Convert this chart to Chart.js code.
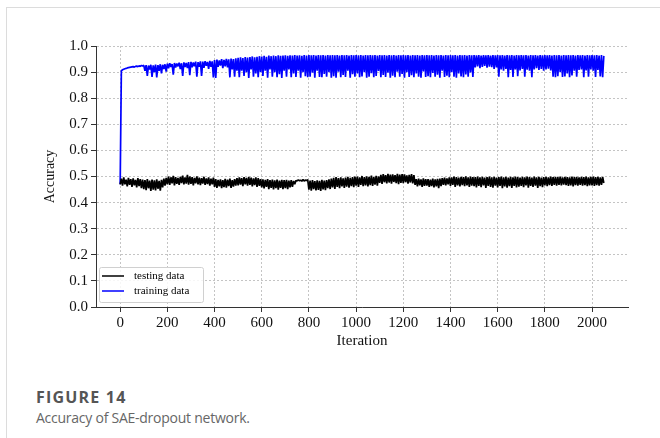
<!DOCTYPE html>
<html lang="en">
<head>
  <meta charset="UTF-8">
  <title>Accuracy of SAE-dropout network</title>
  <script src="https://cdn.jsdelivr.net/npm/chart.js"></script>
  <style>
    body { margin: 0; background: #fff; width: 660px; height: 438px; overflow: hidden; position: relative; }
    .frame { position: absolute; left: 6px; top: 7px; right: 0; bottom: 0; border-left: 1px solid #dcdcdc; border-top: 1px solid #dcdcdc; }
    .plot { position: absolute; left: 0; top: 0; width: 660px; height: 360px; }
    .caption { position: absolute; left: 36px; top: 387px; font-family: "Open Sans", sans-serif; color: #555; }
    .caption .num { font-weight: 700; font-size: 16px; line-height: 20px; letter-spacing: 1.2px; }
    .caption .txt { font-size: 14px; line-height: 22px; letter-spacing: -0.25px; color: #666; }
  </style>
</head>
<body>
  <div class="frame"></div>
  <div class="plot"><canvas id="acc" width="660" height="360"></canvas></div>
  <div class="caption">
    <div class="num">FIGURE 14</div>
    <div class="txt">Accuracy of SAE-dropout network.</div>
  </div>

  <script>
    // one sample every 5 iterations, starting at iteration 0
    const step = 5;
    const xTicks = [0, 200, 400, 600, 800, 1000, 1200, 1400, 1600, 1800, 2000];
    const yTicks = [0, 0.1, 0.2, 0.3, 0.4, 0.5, 0.6, 0.7, 0.8, 0.9, 1.0];

    const testing = [
      0.47, 0.492, 0.465, 0.497, 0.47, 0.488, 0.462, 0.495, 0.468, 0.49,
      0.46, 0.493, 0.466, 0.487, 0.458, 0.494, 0.463, 0.49, 0.455, 0.488,
      0.452, 0.486, 0.448, 0.49, 0.455, 0.484, 0.445, 0.488, 0.45, 0.485,
      0.447, 0.489, 0.453, 0.483, 0.446, 0.487, 0.458, 0.492, 0.465, 0.495,
      0.47, 0.5, 0.468, 0.497, 0.474, 0.502, 0.466, 0.498, 0.472, 0.495,
      0.468, 0.499, 0.475, 0.503, 0.47, 0.497, 0.473, 0.506, 0.469, 0.5,
      0.472, 0.498, 0.466, 0.495, 0.474, 0.5, 0.47, 0.496, 0.467, 0.494,
      0.473, 0.499, 0.468, 0.493, 0.471, 0.497, 0.465, 0.492, 0.47, 0.496,
      0.46, 0.49, 0.456, 0.487, 0.462, 0.489, 0.455, 0.486, 0.459, 0.491,
      0.457, 0.488, 0.463, 0.492, 0.456, 0.486, 0.461, 0.49, 0.465, 0.494,
      0.466, 0.497, 0.469, 0.494, 0.463, 0.498, 0.47, 0.495, 0.465, 0.499,
      0.468, 0.496, 0.462, 0.493, 0.467, 0.497, 0.46, 0.494, 0.464, 0.49,
      0.458, 0.489, 0.454, 0.487, 0.46, 0.49, 0.452, 0.486, 0.456, 0.488,
      0.451, 0.485, 0.455, 0.488, 0.45, 0.484, 0.456, 0.487, 0.452, 0.486,
      0.455, 0.487, 0.452, 0.484, 0.458, 0.486, 0.46, 0.483, 0.47, 0.485,
      0.483, 0.487, 0.484, 0.486, 0.482, 0.488, 0.483, 0.486, 0.485, 0.487,
      0.45, 0.484, 0.446, 0.486, 0.452, 0.482, 0.447, 0.485, 0.449, 0.483,
      0.445, 0.487, 0.451, 0.484, 0.448, 0.486, 0.455, 0.489, 0.452, 0.492,
      0.458, 0.495, 0.452, 0.498, 0.46, 0.494, 0.455, 0.497, 0.462, 0.493,
      0.456, 0.496, 0.461, 0.499, 0.457, 0.495, 0.463, 0.498, 0.459, 0.5,
      0.465, 0.5, 0.46, 0.497, 0.468, 0.502, 0.463, 0.498, 0.466, 0.501,
      0.462, 0.499, 0.467, 0.503, 0.464, 0.498, 0.469, 0.502, 0.465, 0.5,
      0.476, 0.506, 0.472, 0.509, 0.478, 0.505, 0.474, 0.51, 0.477, 0.507,
      0.473, 0.508, 0.479, 0.505, 0.475, 0.51, 0.471, 0.507, 0.476, 0.509,
      0.475, 0.508, 0.478, 0.504, 0.473, 0.506, 0.477, 0.509, 0.474, 0.505,
      0.468, 0.49, 0.462, 0.492, 0.466, 0.489, 0.46, 0.493, 0.464, 0.49,
      0.465, 0.49, 0.46, 0.488, 0.463, 0.492, 0.458, 0.489, 0.462, 0.491,
      0.455, 0.492, 0.463, 0.494, 0.468, 0.496, 0.466, 0.493, 0.47, 0.497,
      0.464, 0.497, 0.468, 0.5, 0.46, 0.498, 0.466, 0.496, 0.462, 0.499,
      0.467, 0.498, 0.463, 0.501, 0.466, 0.497, 0.46, 0.5, 0.465, 0.498,
      0.463, 0.498, 0.458, 0.5, 0.464, 0.497, 0.459, 0.499, 0.466, 0.496,
      0.456, 0.498, 0.464, 0.5, 0.46, 0.497, 0.457, 0.499, 0.465, 0.496,
      0.458, 0.498, 0.464, 0.5, 0.455, 0.497, 0.462, 0.499, 0.457, 0.496,
      0.463, 0.499, 0.456, 0.497, 0.464, 0.5, 0.458, 0.498, 0.461, 0.496,
      0.464, 0.499, 0.459, 0.497, 0.466, 0.5, 0.457, 0.498, 0.464, 0.496,
      0.46, 0.5, 0.465, 0.497, 0.456, 0.499, 0.463, 0.496, 0.459, 0.498,
      0.466, 0.499, 0.463, 0.497, 0.467, 0.5, 0.464, 0.498, 0.468, 0.499,
      0.465, 0.498, 0.468, 0.5, 0.466, 0.497, 0.469, 0.499, 0.467, 0.498,
      0.464, 0.497, 0.466, 0.5, 0.462, 0.498, 0.467, 0.499, 0.465, 0.497,
      0.468, 0.499, 0.465, 0.498, 0.467, 0.5, 0.463, 0.497, 0.466, 0.499,
      0.466, 0.5, 0.464, 0.498, 0.467, 0.499, 0.465, 0.497, 0.468, 0.498,
      0.475
    ];

    const training = [
      0.47, 0.905, 0.909, 0.911, 0.913, 0.914, 0.916, 0.917, 0.918, 0.919,
      0.92, 0.921, 0.919, 0.922, 0.923, 0.921, 0.924, 0.922, 0.925, 0.923,
      0.926, 0.905, 0.927, 0.885, 0.925, 0.91, 0.928, 0.882, 0.926, 0.9,
      0.929, 0.88, 0.927, 0.905, 0.93, 0.895, 0.928, 0.912, 0.93, 0.902,
      0.932, 0.915, 0.934, 0.92, 0.931, 0.89, 0.935, 0.918, 0.933, 0.922,
      0.936, 0.912, 0.934, 0.885, 0.937, 0.92, 0.935, 0.915, 0.938, 0.888,
      0.939, 0.918, 0.937, 0.922, 0.94, 0.882, 0.938, 0.92, 0.941, 0.885,
      0.94, 0.916, 0.942, 0.924, 0.939, 0.912, 0.943, 0.92, 0.941, 0.88,
      0.946, 0.878, 0.948, 0.92, 0.945, 0.925, 0.95, 0.915, 0.947, 0.922,
      0.951, 0.918, 0.949, 0.88, 0.952, 0.91, 0.95, 0.882, 0.953, 0.905,
      0.955, 0.88, 0.957, 0.905, 0.954, 0.885, 0.958, 0.9, 0.956, 0.878,
      0.958, 0.91, 0.96, 0.882, 0.957, 0.895, 0.959, 0.88, 0.961, 0.9,
      0.96, 0.885, 0.962, 0.905, 0.959, 0.879, 0.963, 0.91, 0.961, 0.882,
      0.963, 0.9, 0.961, 0.88, 0.964, 0.892, 0.962, 0.878, 0.963, 0.905,
      0.964, 0.882, 0.962, 0.91, 0.964, 0.88, 0.963, 0.895, 0.965, 0.881,
      0.963, 0.905, 0.964, 0.879, 0.962, 0.9, 0.965, 0.884, 0.963, 0.88,
      0.965, 0.882, 0.964, 0.898, 0.965, 0.879, 0.963, 0.905, 0.965, 0.881,
      0.964, 0.88, 0.965, 0.893, 0.963, 0.882, 0.965, 0.9, 0.964, 0.879,
      0.965, 0.884, 0.964, 0.879, 0.965, 0.902, 0.963, 0.88, 0.965, 0.889,
      0.964, 0.881, 0.965, 0.905, 0.963, 0.879, 0.965, 0.892, 0.964, 0.882,
      0.965, 0.895, 0.964, 0.88, 0.965, 0.883, 0.963, 0.9, 0.965, 0.879,
      0.964, 0.882, 0.965, 0.896, 0.964, 0.88, 0.965, 0.885, 0.963, 0.904,
      0.965, 0.88, 0.964, 0.889, 0.965, 0.881, 0.963, 0.898, 0.965, 0.879,
      0.964, 0.886, 0.965, 0.88, 0.963, 0.902, 0.965, 0.882, 0.964, 0.893,
      0.965, 0.879, 0.964, 0.9, 0.965, 0.881, 0.963, 0.888, 0.965, 0.88,
      0.964, 0.895, 0.965, 0.882, 0.963, 0.879, 0.965, 0.903, 0.964, 0.881,
      0.965, 0.884, 0.964, 0.88, 0.965, 0.897, 0.963, 0.882, 0.965, 0.89,
      0.964, 0.879, 0.965, 0.905, 0.963, 0.881, 0.965, 0.886, 0.964, 0.88,
      0.965, 0.9, 0.964, 0.882, 0.965, 0.879, 0.963, 0.895, 0.965, 0.883,
      0.964, 0.88, 0.965, 0.891, 0.963, 0.882, 0.965, 0.899, 0.964, 0.881,
      0.965, 0.918, 0.964, 0.922, 0.965, 0.915, 0.963, 0.92, 0.965, 0.924,
      0.964, 0.917, 0.965, 0.921, 0.963, 0.919, 0.965, 0.912, 0.964, 0.918,
      0.965, 0.882, 0.964, 0.91, 0.965, 0.905, 0.963, 0.912, 0.965, 0.88,
      0.964, 0.908, 0.965, 0.881, 0.963, 0.91, 0.965, 0.884, 0.964, 0.906,
      0.965, 0.912, 0.964, 0.882, 0.965, 0.909, 0.963, 0.905, 0.965, 0.88,
      0.964, 0.91, 0.965, 0.915, 0.963, 0.908, 0.965, 0.912, 0.964, 0.905,
      0.965, 0.91, 0.964, 0.913, 0.965, 0.906, 0.963, 0.882, 0.965, 0.88,
      0.964, 0.884, 0.965, 0.9, 0.963, 0.881, 0.965, 0.883, 0.964, 0.895,
      0.965, 0.88, 0.964, 0.887, 0.965, 0.905, 0.963, 0.882, 0.965, 0.908,
      0.964, 0.91, 0.965, 0.88, 0.963, 0.906, 0.965, 0.882, 0.964, 0.91,
      0.965, 0.905, 0.964, 0.881, 0.965, 0.908, 0.963, 0.883, 0.965, 0.88,
      0.962
    ];

    const toPoints = arr => arr.map((v, i) => ({ x: i * step, y: v }));

    const serif = '"Liberation Serif", "Times New Roman", serif';

    // matplotlib-style legend box in the lower left corner of the plot
    const boxLegend = {
      id: 'boxLegend',
      afterDraw(chart) {
        const { ctx, chartArea } = chart;
        const x = chartArea.left + 3, y = chartArea.bottom - 40, w = 104, h = 35;
        ctx.save();
        ctx.fillStyle = 'rgba(255,255,255,0.85)';
        ctx.strokeStyle = '#d0d0d0';
        ctx.lineWidth = 1;
        ctx.beginPath();
        ctx.roundRect(x + 0.5, y + 0.5, w, h, 2);
        ctx.fill();
        ctx.stroke();
        ctx.font = '11px ' + serif;
        ctx.textBaseline = 'middle';
        chart.data.datasets.forEach((ds, i) => {
          const ly = y + 9 + i * 15;
          ctx.strokeStyle = ds.borderColor;
          ctx.lineWidth = 1.5;
          ctx.beginPath();
          ctx.moveTo(x + 3, ly);
          ctx.lineTo(x + 25, ly);
          ctx.stroke();
          ctx.fillStyle = '#000';
          ctx.fillText(ds.label, x + 35, ly);
        });
        ctx.restore();
      }
    };

    const lineStyle = { borderWidth: 1.7, borderJoinStyle: 'bevel', pointRadius: 0, tension: 0 };

    new Chart(document.getElementById('acc'), {
      type: 'line',
      data: {
        datasets: [
          { label: 'testing data', data: toPoints(testing), borderColor: '#000000', ...lineStyle },
          { label: 'training data', data: toPoints(training), borderColor: '#0000ff', ...lineStyle }
        ]
      },
      options: {
        responsive: false,
        animation: false,
        events: [],
        layout: { padding: { left: 38, top: 46, right: 32, bottom: 6 } },
        plugins: { legend: { display: false }, tooltip: { enabled: false } },
        scales: {
          x: {
            type: 'linear',
            min: -102.5,
            max: 2152.5,
            afterBuildTicks: s => { s.ticks = xTicks.map(v => ({ value: v })); },
            afterFit: s => { s.height = 47; },
            grid: { color: '#c4c4c4', tickColor: '#333', tickLength: 5 },
            border: { color: '#333', width: 1, dash: [2, 2] },
            ticks: { color: '#111', font: { family: serif, size: 15 }, padding: 2, maxRotation: 0, callback: v => String(v) },
            title: { display: true, text: 'Iteration', color: '#111', font: { family: serif, size: 15 }, padding: { top: 0, bottom: 4 } }
          },
          y: {
            min: 0,
            max: 1,
            afterBuildTicks: s => { s.ticks = yTicks.map(v => ({ value: v })); },
            afterFit: s => { s.width = 58; },
            grid: { color: '#c4c4c4', tickColor: '#333', tickLength: 5 },
            border: { color: '#333', width: 1, dash: [2, 2] },
            ticks: { color: '#111', font: { family: serif, size: 15 }, padding: 3, callback: v => v.toFixed(1) },
            title: { display: true, text: 'Accuracy', color: '#111', font: { family: serif, size: 14 }, padding: { top: 4, bottom: 0 } }
          }
        }
      },
      plugins: [boxLegend]
    });
  </script>
</body>
</html>
